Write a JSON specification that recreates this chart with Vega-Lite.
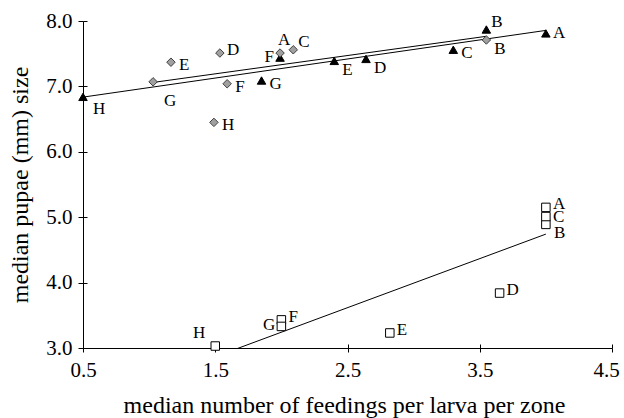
{
  "$schema": "https://vega.github.io/schema/vega-lite/v6.json",
  "width": 529,
  "height": 327,
  "autosize": "none",
  "padding": {"left": 83, "top": 21, "right": 12, "bottom": 70},
  "config": {
    "view": {"stroke": null},
    "font": "Liberation Serif",
    "axis": {
      "grid": false,
      "domainColor": "black",
      "domainWidth": 1,
      "tickColor": "black",
      "tickWidth": 1,
      "labelColor": "black",
      "titleColor": "black",
      "labelFont": "Liberation Serif",
      "titleFont": "Liberation Serif",
      "labelFontSize": 21,
      "titleFontSize": 24,
      "titleFontWeight": "normal"
    }
  },
  "data": {
    "values": [
      {"series": "triangle", "zone": "A", "feedings": 4.0, "size": 7.81},
      {"series": "triangle", "zone": "B", "feedings": 3.55, "size": 7.87},
      {"series": "triangle", "zone": "C", "feedings": 3.30, "size": 7.56},
      {"series": "triangle", "zone": "D", "feedings": 2.64, "size": 7.42},
      {"series": "triangle", "zone": "E", "feedings": 2.40, "size": 7.39},
      {"series": "triangle", "zone": "F", "feedings": 1.99, "size": 7.44},
      {"series": "triangle", "zone": "G", "feedings": 1.85, "size": 7.09},
      {"series": "triangle", "zone": "H", "feedings": 0.5, "size": 6.84},
      {"series": "diamond", "zone": "A", "feedings": 1.99, "size": 7.51},
      {"series": "diamond", "zone": "B", "feedings": 3.55, "size": 7.71},
      {"series": "diamond", "zone": "C", "feedings": 2.09, "size": 7.56},
      {"series": "diamond", "zone": "D", "feedings": 1.535, "size": 7.51},
      {"series": "diamond", "zone": "E", "feedings": 1.165, "size": 7.37},
      {"series": "diamond", "zone": "F", "feedings": 1.59, "size": 7.04},
      {"series": "diamond", "zone": "G", "feedings": 1.03, "size": 7.07},
      {"series": "diamond", "zone": "H", "feedings": 1.49, "size": 6.45},
      {"series": "square", "zone": "A", "feedings": 4.0, "size": 5.15},
      {"series": "square", "zone": "B", "feedings": 4.0, "size": 4.89},
      {"series": "square", "zone": "C", "feedings": 4.0, "size": 5.01},
      {"series": "square", "zone": "D", "feedings": 3.65, "size": 3.84},
      {"series": "square", "zone": "E", "feedings": 2.82, "size": 3.23},
      {"series": "square", "zone": "F", "feedings": 2.0, "size": 3.43},
      {"series": "square", "zone": "G", "feedings": 2.0, "size": 3.33},
      {"series": "square", "zone": "H", "feedings": 1.5, "size": 3.03}
    ]
  },
  "resolve": {"axis": {"x": "independent", "y": "independent"}},
  "layer": [
    {
      "mark": {"type": "point", "opacity": 0},
      "encoding": {
        "x": {"field": "feedings", "type": "quantitative", "scale": {"domain": [0.5, 4.5], "nice": false, "zero": false},
          "axis": {"orient": "bottom", "values": [0.5, 1.5, 2.5, 3.5, 4.5], "format": ".1f", "tickSize": 4, "labelPadding": 7, "labelFlush": false, "labelOverlap": false,
            "labelOffset": {"condition": {"test": "datum.value == 4.5", "value": -6}, "value": 0},
            "title": "median number of feedings per larva per zone", "titleBaseline": "alphabetic", "titleX": 261, "titleY": 64}},
        "y": {"field": "size", "type": "quantitative", "scale": {"domain": [3, 8], "nice": false, "zero": false},
          "axis": {"orient": "left", "values": [3, 4, 5, 6, 7, 8], "format": ".1f", "tickSize": 5, "labelPadding": 6, "labelFlush": false, "labelOverlap": false, "title": "median pupae (mm) size", "titleBaseline": "alphabetic", "titleAngle": 270, "titleX": -56}}
      }
    },
    {
      "mark": {"type": "point", "opacity": 0},
      "encoding": {
        "x": {"field": "feedings", "type": "quantitative", "scale": {"domain": [0.5, 4.5], "nice": false, "zero": false},
          "axis": {"orient": "bottom", "values": [0.5, 1.5, 2.5, 3.5, 4.5], "tickSize": 4, "offset": -4, "domain": false, "labels": false, "title": null}},
        "y": {"field": "size", "type": "quantitative", "scale": {"domain": [3, 8], "nice": false, "zero": false},
          "axis": {"orient": "left", "values": [3, 4, 5, 6, 7, 8], "tickSize": 4, "offset": -4, "domain": false, "labels": false, "title": null}}
      }
    },
    {
      "transform": [{"regression": "size", "on": "feedings", "groupby": ["series"]}],
      "mark": {"type": "line", "color": "black", "strokeWidth": 1, "clip": true},
      "encoding": {
        "x": {"field": "feedings", "type": "quantitative", "scale": {"domain": [0.5, 4.5], "nice": false, "zero": false}, "axis": null},
        "y": {"field": "size", "type": "quantitative", "scale": {"domain": [3, 8], "nice": false, "zero": false}, "axis": null},
        "detail": {"field": "series"}
      }
    },
    {
      "mark": {"type": "point", "opacity": 1, "size": 72, "strokeWidth": 1},
      "encoding": {
        "x": {"field": "feedings", "type": "quantitative", "scale": {"domain": [0.5, 4.5], "nice": false, "zero": false}, "axis": null},
        "y": {"field": "size", "type": "quantitative", "scale": {"domain": [3, 8], "nice": false, "zero": false}, "axis": null},
        "shape": {"field": "series", "type": "nominal", "scale": {"domain": ["triangle", "diamond", "square"], "range": ["triangle-up", "diamond", "square"]}, "legend": null},
        "fill": {"field": "series", "type": "nominal", "scale": {"domain": ["triangle", "diamond", "square"], "range": ["black", "#a0a0a0", "white"]}, "legend": null},
        "stroke": {"field": "series", "type": "nominal", "scale": {"domain": ["triangle", "diamond", "square"], "range": ["black", "#404040", "black"]}, "legend": null}
      }
    },
    {
      "transform": [{"filter": "indexof(['diamond:D','square:A','square:D','square:E','square:F'], datum.series + ':' + datum.zone) >= 0"}],
      "mark": {"type": "text", "align": "left", "baseline": "middle", "dx": 7, "dy": -3, "fontSize": 17, "font": "Liberation Serif", "color": "black"},
      "encoding": {
        "x": {"field": "feedings", "type": "quantitative", "scale": {"domain": [0.5, 4.5], "nice": false, "zero": false}, "axis": null},
        "y": {"field": "size", "type": "quantitative", "scale": {"domain": [3, 8], "nice": false, "zero": false}, "axis": null},
        "text": {"field": "zone"}
      }
    },
    {
      "transform": [{"filter": "indexof(['triangle:A','square:C'], datum.series + ':' + datum.zone) >= 0"}],
      "mark": {"type": "text", "align": "left", "baseline": "middle", "dx": 7, "dy": 0, "fontSize": 17, "font": "Liberation Serif", "color": "black"},
      "encoding": {
        "x": {"field": "feedings", "type": "quantitative", "scale": {"domain": [0.5, 4.5], "nice": false, "zero": false}, "axis": null},
        "y": {"field": "size", "type": "quantitative", "scale": {"domain": [3, 8], "nice": false, "zero": false}, "axis": null},
        "text": {"field": "zone"}
      }
    },
    {
      "transform": [{"filter": "indexof(['triangle:C','triangle:G','diamond:E','diamond:F','diamond:H'], datum.series + ':' + datum.zone) >= 0"}],
      "mark": {"type": "text", "align": "left", "baseline": "middle", "dx": 8, "dy": 3, "fontSize": 17, "font": "Liberation Serif", "color": "black"},
      "encoding": {
        "x": {"field": "feedings", "type": "quantitative", "scale": {"domain": [0.5, 4.5], "nice": false, "zero": false}, "axis": null},
        "y": {"field": "size", "type": "quantitative", "scale": {"domain": [3, 8], "nice": false, "zero": false}, "axis": null},
        "text": {"field": "zone"}
      }
    },
    {
      "transform": [{"filter": "indexof(['triangle:D','triangle:E','diamond:B','square:B'], datum.series + ':' + datum.zone) >= 0"}],
      "mark": {"type": "text", "align": "left", "baseline": "middle", "dx": 8, "dy": 9, "fontSize": 17, "font": "Liberation Serif", "color": "black"},
      "encoding": {
        "x": {"field": "feedings", "type": "quantitative", "scale": {"domain": [0.5, 4.5], "nice": false, "zero": false}, "axis": null},
        "y": {"field": "size", "type": "quantitative", "scale": {"domain": [3, 8], "nice": false, "zero": false}, "axis": null},
        "text": {"field": "zone"}
      }
    },
    {
      "transform": [{"filter": "datum.series == 'triangle' && datum.zone == 'H'"}],
      "mark": {"type": "text", "align": "left", "baseline": "middle", "dx": 10, "dy": 12, "fontSize": 17, "font": "Liberation Serif", "color": "black"},
      "encoding": {
        "x": {"field": "feedings", "type": "quantitative", "scale": {"domain": [0.5, 4.5], "nice": false, "zero": false}, "axis": null},
        "y": {"field": "size", "type": "quantitative", "scale": {"domain": [3, 8], "nice": false, "zero": false}, "axis": null},
        "text": {"field": "zone"}
      }
    },
    {
      "transform": [{"filter": "indexof(['triangle:B','diamond:C'], datum.series + ':' + datum.zone) >= 0"}],
      "mark": {"type": "text", "align": "left", "baseline": "middle", "dx": 5, "dy": -8, "fontSize": 17, "font": "Liberation Serif", "color": "black"},
      "encoding": {
        "x": {"field": "feedings", "type": "quantitative", "scale": {"domain": [0.5, 4.5], "nice": false, "zero": false}, "axis": null},
        "y": {"field": "size", "type": "quantitative", "scale": {"domain": [3, 8], "nice": false, "zero": false}, "axis": null},
        "text": {"field": "zone"}
      }
    },
    {
      "transform": [{"filter": "indexof(['triangle:F','square:G'], datum.series + ':' + datum.zone) >= 0"}],
      "mark": {"type": "text", "align": "right", "baseline": "middle", "dx": -6, "dy": -1, "fontSize": 17, "font": "Liberation Serif", "color": "black"},
      "encoding": {
        "x": {"field": "feedings", "type": "quantitative", "scale": {"domain": [0.5, 4.5], "nice": false, "zero": false}, "axis": null},
        "y": {"field": "size", "type": "quantitative", "scale": {"domain": [3, 8], "nice": false, "zero": false}, "axis": null},
        "text": {"field": "zone"}
      }
    },
    {
      "transform": [{"filter": "datum.series == 'diamond' && datum.zone == 'A'"}],
      "mark": {"type": "text", "align": "center", "baseline": "middle", "dx": 4, "dy": -13, "fontSize": 17, "font": "Liberation Serif", "color": "black"},
      "encoding": {
        "x": {"field": "feedings", "type": "quantitative", "scale": {"domain": [0.5, 4.5], "nice": false, "zero": false}, "axis": null},
        "y": {"field": "size", "type": "quantitative", "scale": {"domain": [3, 8], "nice": false, "zero": false}, "axis": null},
        "text": {"field": "zone"}
      }
    },
    {
      "transform": [{"filter": "datum.series == 'diamond' && datum.zone == 'G'"}],
      "mark": {"type": "text", "align": "center", "baseline": "middle", "dx": 17, "dy": 19, "fontSize": 17, "font": "Liberation Serif", "color": "black"},
      "encoding": {
        "x": {"field": "feedings", "type": "quantitative", "scale": {"domain": [0.5, 4.5], "nice": false, "zero": false}, "axis": null},
        "y": {"field": "size", "type": "quantitative", "scale": {"domain": [3, 8], "nice": false, "zero": false}, "axis": null},
        "text": {"field": "zone"}
      }
    },
    {
      "transform": [{"filter": "datum.series == 'square' && datum.zone == 'H'"}],
      "mark": {"type": "text", "align": "center", "baseline": "middle", "dx": -16, "dy": -13, "fontSize": 17, "font": "Liberation Serif", "color": "black"},
      "encoding": {
        "x": {"field": "feedings", "type": "quantitative", "scale": {"domain": [0.5, 4.5], "nice": false, "zero": false}, "axis": null},
        "y": {"field": "size", "type": "quantitative", "scale": {"domain": [3, 8], "nice": false, "zero": false}, "axis": null},
        "text": {"field": "zone"}
      }
    }
  ]
}
